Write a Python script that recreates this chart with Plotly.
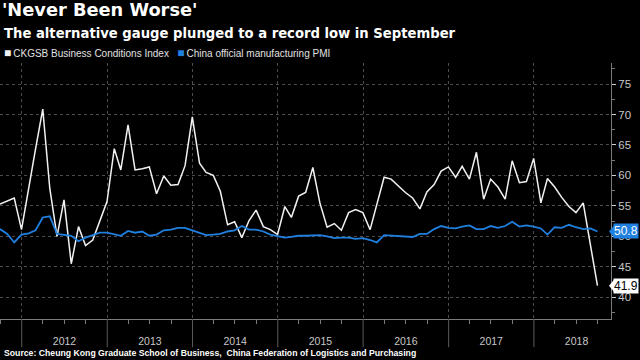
import pandas as pd
import plotly.graph_objects as go

# ---------------- data (month-end readings, Sep 2011 .. Sep 2018) ----------------
start_month = "2011-10-01"
n_months = 85
ckgsb = [55.3, 55.8, 56.3, 51.1, 57.6, 64.3, 70.9, 57.9, 50.0, 56.0,
         45.5, 51.6, 48.5, 49.4, 52.5, 55.7, 64.4, 60.9, 68.3, 60.9,
         61.1, 61.4, 57.0, 59.9, 58.4, 58.5, 61.6, 69.6, 62.0, 60.5,
         60.0, 57.4, 51.9, 52.4, 49.8, 52.6, 54.3, 51.6, 51.1, 50.3,
         54.9, 53.1, 56.6, 57.2, 61.3, 55.5, 51.5, 52.1, 51.0, 53.9,
         54.4, 53.9, 51.1, 55.4, 59.7, 59.4, 58.3, 57.2, 56.3, 54.5,
         57.3, 58.5, 60.7, 61.4, 59.7, 61.5, 59.4, 63.8, 56.1, 59.4,
         58.1, 56.1, 62.4, 58.8, 59.0, 62.8, 55.5, 59.5, 58.1, 56.4,
         54.9, 53.9, 55.5, 48.6, 41.9]
pmi = [51.2, 50.4, 49.0, 50.3, 50.5, 51.0, 53.1, 53.3, 50.4, 50.2,
       50.1, 49.2, 49.8, 50.2, 50.6, 50.6, 50.4, 50.1, 50.9, 50.6,
       50.8, 50.1, 50.3, 51.0, 51.1, 51.4, 51.4, 51.0, 50.5, 50.2,
       50.3, 50.4, 50.8, 51.0, 51.7, 51.1, 51.1, 50.8, 50.3, 50.1,
       49.8, 49.9, 50.1, 50.1, 50.2, 50.2, 50.0, 49.7, 49.8, 49.8,
       49.6, 49.7, 49.4, 49.0, 50.2, 50.1, 50.1, 50.0, 49.9, 50.4,
       50.4, 51.2, 51.7, 51.4, 51.3, 51.6, 51.8, 51.2, 51.2, 51.7,
       51.4, 51.7, 52.4, 51.6, 51.8, 51.6, 51.3, 50.3, 51.5, 51.4,
       51.9, 51.5, 51.2, 51.3, 50.8]
series_names = ["CKGSB Business Conditions Index", "China official manufacturing PMI"]
year_labels = [2012, 2013, 2014, 2015, 2016, 2017, 2018]
y_ticks = [40, 45, 50, 55, 60, 65, 70, 75]

months = pd.date_range(start=start_month, periods=n_months, freq="MS") - pd.Timedelta(days=1)

# ---------------- style ----------------
BG = "#000000"
WHITE = "#f2f2f2"
BLUE = "#1f80e0"
GRID = "#4d4d4d"
AXIS = "#7a7a7a"
LABEL = "#c8c8c8"
SANS = "Liberation Sans, Arial, sans-serif"
BOLD = "DejaVu Sans, sans-serif"
Y_RANGE = [36.44, 78.45]
X_RANGE = ["2011-09-30", "2018-11-27"]
PLOT_W, PLOT_H = 611, 256
PLOT_BOTTOM = 319


def py(pixel_y):
    """paper y for a pixel row of the 360px image"""
    return (PLOT_BOTTOM - pixel_y) / PLOT_H


fig = go.Figure()
fig.add_trace(go.Scatter(x=months, y=ckgsb, mode="lines", name=series_names[0],
                         line=dict(color=WHITE, width=1.5), showlegend=False))
fig.add_trace(go.Scatter(x=months, y=pmi, mode="lines", name=series_names[1],
                         line=dict(color=BLUE, width=1.8), showlegend=False))

# year separators below the axis
shapes = []
for yr in year_labels:
    shapes.append(dict(type="line", xref="x", yref="paper", x0=f"{yr}-01-01", x1=f"{yr}-01-01",
                       y0=0, y1=-0.11, line=dict(color="#5a5a5a", width=1)))

# last-value tags
def ypaper(v):
    return (v - Y_RANGE[0]) / (Y_RANGE[1] - Y_RANGE[0])

annotations = []
for vals, bg, fg in [(pmi, BLUE, "#ffffff"), (ckgsb, "#ffffff", "#000000")]:
    v = vals[-1]
    annotations.append(dict(x=1, xref="paper", xanchor="left", xshift=2,
                            y=v, yref="y", yanchor="middle", showarrow=False,
                            text=f"{v:.1f}", bgcolor=bg, borderpad=0,
                            font=dict(family=SANS, size=12, color=fg)))
    yc = ypaper(v)
    shapes.append(dict(type="path", xref="paper", yref="paper",
                       path=(f"M {1 - 2/PLOT_W},{yc} L {1 + 3/PLOT_W},{yc + 6/PLOT_H} "
                             f"L {1 + 3/PLOT_W},{yc - 6/PLOT_H} Z"),
                       fillcolor=bg, line=dict(width=0)))

# subtitle
annotations.append(dict(x=0.003, xref="paper", xanchor="left", y=py(33), yref="paper",
                        yanchor="middle", showarrow=False,
                        text="<b>The alternative gauge plunged to a record low in September</b>",
                        font=dict(family=BOLD, size=13.2, color="#ffffff")))
# legend (square swatches + text)
legend_text = (f"<span style='color:{WHITE};font-size:12px'>■</span>\u2009{series_names[0]}"
               f"\u00a0\u00a0\u00a0<span style='color:{BLUE};font-size:12px'>■</span>\u2009{series_names[1]}")
annotations.append(dict(x=0.004, xref="paper", xanchor="left", y=py(53), yref="paper",
                        yanchor="middle", showarrow=False, text=legend_text,
                        font=dict(family=SANS, size=10, color="#e0e0e0")))
# source
annotations.append(dict(x=0.003, xref="paper", xanchor="left", y=py(353), yref="paper",
                        yanchor="middle", showarrow=False,
                        text="<b>Source: Cheung Kong Graduate School of Business,\u00a0 China Federation of Logistics and Purchasing</b>",
                        font=dict(family=SANS, size=8.7, color="#ffffff")))

fig.update_layout(
    width=640, height=360,
    paper_bgcolor=BG, plot_bgcolor=BG,
    margin=dict(l=0, r=29, t=63, b=41, autoexpand=False),
    showlegend=False,
    title=dict(text="<b>'Never Been Worse'</b>", x=0.003, xanchor="left", xref="container",
               y=0.989, yanchor="top", yref="container", pad=dict(t=0, l=0),
               font=dict(family=BOLD, size=17.8, color="#ffffff")),
    xaxis=dict(type="date", range=X_RANGE, showgrid=True, gridcolor=GRID, griddash="dot", gridwidth=1,
               tick0="2012-01-01", dtick="M12", ticklabelmode="period", tickformat="%Y",
               ticks="outside", ticklen=12, tickcolor="rgba(0,0,0,0)",
               tickfont=dict(family=SANS, size=10.5, color=LABEL),
               showline=True, linecolor=AXIS, linewidth=1, zeroline=False,
               minor=dict(tick0="2012-01-01", dtick="M3", ticks="outside", ticklen=4,
                          tickcolor=AXIS, showgrid=False),
               automargin=False, fixedrange=True),
    yaxis=dict(side="right", range=Y_RANGE, tickmode="array", tickvals=y_ticks,
               showgrid=True, gridcolor=GRID, griddash="dot", gridwidth=1,
               ticks="outside", ticklen=4, tickcolor="#d0d0d0",
               tickfont=dict(family=SANS, size=11.5, color=LABEL),
               showline=True, linecolor=AXIS, linewidth=1, zeroline=False,
               minor=dict(tick0=0, dtick=2.5, ticks="outside", ticklen=3, tickcolor=AXIS, showgrid=False),
               automargin=False, fixedrange=True),
    shapes=shapes,
    annotations=annotations,
)

fig.write_html("out.html", config={"displayModeBar": False},
               post_script="document.body.style.margin='0px';document.body.style.background='#000';")
